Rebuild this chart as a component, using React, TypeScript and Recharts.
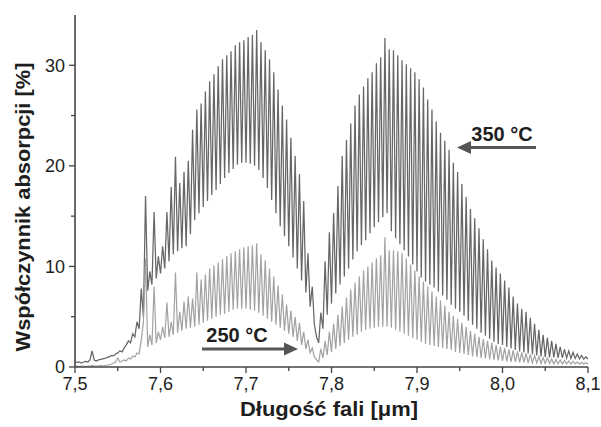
import React from "react";
import { LineChart, Line, XAxis, YAxis } from "recharts";

// Wavelength grid [µm]
const wavelength: number[] = [
  7.5, 7.5025, 7.505, 7.5075, 7.51, 7.5125, 7.515, 7.5175,
  7.52, 7.5225, 7.525, 7.5275, 7.53, 7.5325, 7.535, 7.5375,
  7.54, 7.5425, 7.545, 7.5475, 7.55, 7.5525, 7.555, 7.5575,
  7.56, 7.5625, 7.565, 7.5675, 7.57, 7.5725, 7.575, 7.5775,
  7.58, 7.5825, 7.585, 7.5875, 7.59, 7.5925, 7.595, 7.5975,
  7.6, 7.6025, 7.605, 7.6075, 7.61, 7.6125, 7.615, 7.6175,
  7.62, 7.6225, 7.625, 7.6275, 7.63, 7.6325, 7.635, 7.6375,
  7.64, 7.6425, 7.645, 7.6475, 7.65, 7.6525, 7.655, 7.6575,
  7.66, 7.6625, 7.665, 7.6675, 7.67, 7.6725, 7.675, 7.6775,
  7.68, 7.6825, 7.685, 7.6875, 7.69, 7.6925, 7.695, 7.6975,
  7.7, 7.7025, 7.705, 7.7075, 7.71, 7.7125, 7.715, 7.7175,
  7.72, 7.7225, 7.725, 7.7275, 7.73, 7.7325, 7.735, 7.7375,
  7.74, 7.7425, 7.745, 7.7475, 7.75, 7.7525, 7.755, 7.7575,
  7.76, 7.7625, 7.765, 7.7675, 7.77, 7.7725, 7.775, 7.7775,
  7.78, 7.7825, 7.785, 7.7875, 7.79, 7.7925, 7.795, 7.7975,
  7.8, 7.8025, 7.805, 7.8075, 7.81, 7.8125, 7.815, 7.8175,
  7.82, 7.8225, 7.825, 7.8275, 7.83, 7.8325, 7.835, 7.8375,
  7.84, 7.8425, 7.845, 7.8475, 7.85, 7.8525, 7.855, 7.8575,
  7.86, 7.8625, 7.865, 7.8675, 7.87, 7.8725, 7.875, 7.8775,
  7.88, 7.8825, 7.885, 7.8875, 7.89, 7.8925, 7.895, 7.8975,
  7.9, 7.9025, 7.905, 7.9075, 7.91, 7.9125, 7.915, 7.9175,
  7.92, 7.9225, 7.925, 7.9275, 7.93, 7.9325, 7.935, 7.9375,
  7.94, 7.9425, 7.945, 7.9475, 7.95, 7.9525, 7.955, 7.9575,
  7.96, 7.9625, 7.965, 7.9675, 7.97, 7.9725, 7.975, 7.9775,
  7.98, 7.9825, 7.985, 7.9875, 7.99, 7.9925, 7.995, 7.9975,
  8, 8.0025, 8.005, 8.0075, 8.01, 8.0125, 8.015, 8.0175,
  8.02, 8.0225, 8.025, 8.0275, 8.03, 8.0325, 8.035, 8.0375,
  8.04, 8.0425, 8.045, 8.0475, 8.05, 8.0525, 8.055, 8.0575,
  8.06, 8.0625, 8.065, 8.0675, 8.07, 8.0725, 8.075, 8.0775,
  8.08, 8.0825, 8.085, 8.0875, 8.09, 8.0925, 8.095, 8.0975,
  8.1,
];

// Absorption coefficient [%] at 350 °C
const absorption350: number[] = [
  0.5, 0.45, 0.5, 0.4, 0.5, 0.55, 0.5, 0.7,
  1.6, 0.7, 0.6, 0.7, 0.75, 0.8, 0.85, 0.95,
  1.0, 1.15, 1.1, 1.3, 1.4, 1.6, 1.5, 1.9,
  2.2, 2.6, 2.4, 3.3, 3.0, 4.5, 3.8, 7.8,
  5.0, 17.0, 7.6, 9.5, 8.2, 15.4, 8.8, 11.0,
  9.3, 12.0, 9.8, 15.4, 10.5, 17.9, 11.2, 20.9,
  11.5, 18.3, 11.8, 19.4, 12.0, 20.5, 13.2, 23.6,
  14.6, 25.6, 15.3, 26.2, 15.9, 27.4, 16.5, 28.4,
  17.1, 29.1, 17.6, 29.9, 18.2, 30.6, 18.8, 31.0,
  19.3, 31.4, 19.7, 32.0, 20.1, 32.3, 20.3, 32.5,
  20.3, 32.8, 20.2, 33.0, 20.0, 33.5, 19.6, 32.3,
  18.8, 31.5, 17.8, 30.6, 16.6, 29.3, 15.3, 27.6,
  14.0, 26.0, 13.0, 24.6, 12.0, 22.8, 10.9, 21.0,
  9.8, 19.2, 8.6, 16.5, 7.4, 11.3, 6.0, 8.0,
  4.2, 3.0, 2.4, 5.4, 3.8, 10.5, 5.2, 13.4,
  6.3, 15.3, 7.3, 18.0, 8.2, 21.0, 9.0, 22.6,
  9.8, 24.2, 10.7, 26.0, 11.5, 27.1, 12.1, 27.9,
  12.6, 28.7, 13.3, 29.3, 13.9, 30.2, 14.4, 30.8,
  14.9, 32.7, 15.3, 31.6, 13.5, 31.5, 12.8, 31.0,
  12.2, 30.5, 11.6, 30.1, 11.0, 29.7, 10.2, 29.3,
  9.5, 28.6, 8.9, 27.8, 8.5, 26.6, 8.2, 25.6,
  7.9, 24.4, 7.5, 23.3, 7.1, 22.5, 6.7, 21.6,
  6.2, 20.3, 5.8, 19.4, 5.5, 18.2, 5.1, 16.9,
  4.6, 15.7, 4.2, 14.8, 3.8, 13.8, 3.4, 12.7,
  3.1, 11.7, 2.8, 10.6, 2.5, 9.9, 2.3, 9.3,
  2.2, 8.6, 2.0, 7.9, 1.85, 7.0, 1.7, 6.3,
  1.55, 5.8, 1.45, 5.5, 1.35, 4.9, 1.25, 4.3,
  1.15, 3.7, 1.05, 3.2, 1.0, 2.9, 0.95, 2.6,
  0.95, 2.3, 0.9, 2.0, 0.9, 1.75, 0.9, 1.6,
  0.85, 1.45, 0.85, 1.3, 0.8, 1.15, 0.8, 1.0,
  0.8,
];

// Absorption coefficient [%] at 250 °C
const absorption250: number[] = [
  0.1, 0.1, 0.05, 0.1, 0.1, 0.05, 0.1, 0.1,
  0.15, 0.1, 0.1, 0.1, 0.15, 0.1, 0.15, 0.2,
  0.2, 0.3, 0.4, 0.5, 0.9, 0.5, 0.6, 0.7,
  0.6, 0.9, 0.8, 1.1, 1.0, 1.4, 1.3, 2.7,
  4.5, 10.8, 2.0, 3.2, 2.2, 8.0, 2.4, 3.5,
  2.7, 4.0, 2.9, 6.4, 3.0, 4.5, 3.2, 9.4,
  3.4, 5.5, 3.6, 6.5, 3.8, 7.0, 3.9, 6.8,
  4.0, 9.4, 4.2, 8.7, 4.4, 9.2, 4.6, 9.8,
  4.8, 10.1, 5.0, 10.4, 5.2, 10.7, 5.3, 11.0,
  5.5, 11.3, 5.7, 11.5, 5.8, 11.7, 5.8, 11.9,
  5.8, 12.0, 5.7, 12.1, 5.6, 12.3, 5.4, 11.2,
  5.1, 10.6, 4.8, 9.8, 4.5, 9.0, 4.2, 8.1,
  3.9, 7.2, 3.6, 6.2, 3.3, 5.6, 3.0, 5.0,
  2.6, 4.4, 2.2, 3.5, 1.8, 2.7, 1.4, 1.9,
  1.0, 0.7, 0.5, 1.8, 0.9, 2.6, 1.2, 3.5,
  1.5, 4.3, 1.8, 5.2, 2.1, 6.0, 2.4, 6.9,
  2.7, 7.7, 3.0, 8.4, 3.2, 9.0, 3.5, 9.6,
  3.7, 10.0, 3.8, 10.4, 3.9, 10.8, 4.0, 11.1,
  4.0, 12.9, 4.0, 11.6, 3.9, 11.6, 3.7, 11.5,
  3.5, 11.3, 3.3, 10.8, 3.1, 10.2, 2.9, 9.6,
  2.7, 9.0, 2.5, 8.5, 2.3, 8.0, 2.2, 7.5,
  2.1, 7.0, 2.0, 6.6, 1.9, 6.1, 1.8, 5.5,
  1.7, 5.1, 1.5, 4.8, 1.4, 4.4, 1.3, 4.0,
  1.2, 3.6, 1.05, 3.3, 1.0, 3.0, 0.9, 2.8,
  0.85, 2.6, 0.75, 2.4, 0.7, 2.2, 0.65, 2.0,
  0.6, 1.9, 0.55, 1.75, 0.5, 1.65, 0.5, 1.55,
  0.45, 1.45, 0.45, 1.35, 0.4, 1.25, 0.4, 1.15,
  0.4, 1.05, 0.35, 0.95, 0.35, 0.9, 0.35, 0.8,
  0.3, 0.75, 0.3, 0.7, 0.3, 0.65, 0.3, 0.6,
  0.3, 0.55, 0.3, 0.5, 0.3, 0.45, 0.3, 0.42,
  0.3,
];

const xTicks: number[] = [7.5, 7.55, 7.6, 7.65, 7.7, 7.75, 7.8, 7.85, 7.9, 7.95, 8.0, 8.05, 8.1];
const xMajorLabels: string[] = ["7,5", "7,6", "7,7", "7,8", "7,9", "8,0", "8,1"];
const yTicks: number[] = [0, 5, 10, 15, 20, 25, 30];
const yMajorLabels: string[] = ["0", "10", "20", "30"];

const data = wavelength.map((wl, i) => ({
  wl,
  a350: absorption350[i],
  a250: absorption250[i],
}));

const FONT = "'Liberation Sans', Arial, Helvetica, sans-serif";
const AXIS_COLOR = "#444444";
const TEXT_COLOR = "#1e1e1e";

const XTick = (props: any) => {
  const { x, y, index } = props;
  const major = index % 2 === 0;
  const label = xMajorLabels[index / 2];
  return (
    <g>
      <line x1={x} y1={y} x2={x} y2={y + (major ? 6 : 4)} stroke={AXIS_COLOR} strokeWidth={1.3} />
      {major && (
        <text x={x} y={y + 23} textAnchor="middle" fontFamily={FONT} fontSize={18} fill={TEXT_COLOR}>
          {label}
        </text>
      )}
    </g>
  );
};

const YTick = (props: any) => {
  const { x, y, index } = props;
  const major = index % 2 === 0;
  const label = yMajorLabels[index / 2];
  return (
    <g>
      <line x1={x} y1={y} x2={x - (major ? 6 : 4)} y2={y} stroke={AXIS_COLOR} strokeWidth={1.3} />
      {major && (
        <text x={x - 10} y={y} dy="0.35em" textAnchor="end" fontFamily={FONT} fontSize={18} fill={TEXT_COLOR}>
          {label}
        </text>
      )}
    </g>
  );
};

export default function App() {
  return (
    <div style={{ position: "absolute", left: 0, top: 0, width: 601, height: 427, background: "#fff" }}>
      <LineChart
        width={601}
        height={427}
        data={data}
        margin={{ top: 15, right: 13, bottom: 10, left: 15 }}
      >
        <XAxis
          dataKey="wl"
          type="number"
          domain={[7.5, 8.1]}
          ticks={xTicks}
          interval={0}
          height={50}
          tickSize={0}
          tickMargin={0}
          tickLine={false}
          axisLine={{ stroke: AXIS_COLOR, strokeWidth: 1.6 }}
          tick={<XTick />}
          allowDataOverflow
        />
        <YAxis
          type="number"
          domain={[0, 35]}
          ticks={yTicks}
          interval={0}
          width={60}
          tickSize={0}
          tickMargin={0}
          tickLine={false}
          axisLine={{ stroke: AXIS_COLOR, strokeWidth: 1.6 }}
          tick={<YTick />}
          allowDataOverflow
        />
        <Line
          type="linear"
          dataKey="a350"
          stroke="#666666"
          strokeWidth={1.25}
          dot={false}
          isAnimationActive={false}
        />
        <Line
          type="linear"
          dataKey="a250"
          stroke="#a2a2a2"
          strokeWidth={1.2}
          dot={false}
          isAnimationActive={false}
        />
      </LineChart>
      <svg
        width={601}
        height={427}
        style={{ position: "absolute", left: 0, top: 0, pointerEvents: "none" }}
      >
        <text
          x={0}
          y={0}
          transform="translate(30,207) rotate(-90)"
          textAnchor="middle"
          fontFamily={FONT}
          fontWeight="bold"
          fontSize={20}
          fill={TEXT_COLOR}
          textLength={289}
          lengthAdjust="spacingAndGlyphs"
        >
          Współczynnik absorpcji [%]
        </text>
        <text
          x={329}
          y={416}
          textAnchor="middle"
          fontFamily={FONT}
          fontWeight="bold"
          fontSize={20}
          fill={TEXT_COLOR}
          textLength={178}
          lengthAdjust="spacingAndGlyphs"
        >
          Długość fali [μm]
        </text>
        <text x={502} y={141} textAnchor="middle" fontFamily={FONT} fontWeight="bold" fontSize={20} fill={TEXT_COLOR}>
          350 °C
        </text>
        <line x1={469} y1={147.5} x2={536} y2={147.5} stroke="#555" strokeWidth={3} />
        <polygon points="457,147.5 471,141 471,154" fill="#555" />
        <text x={237} y={342} textAnchor="middle" fontFamily={FONT} fontWeight="bold" fontSize={20} fill={TEXT_COLOR}>
          250 °C
        </text>
        <line x1={202} y1={349} x2={286} y2={349} stroke="#555" strokeWidth={3} />
        <polygon points="298,349 284,342.5 284,355.5" fill="#555" />
      </svg>
    </div>
  );
}
